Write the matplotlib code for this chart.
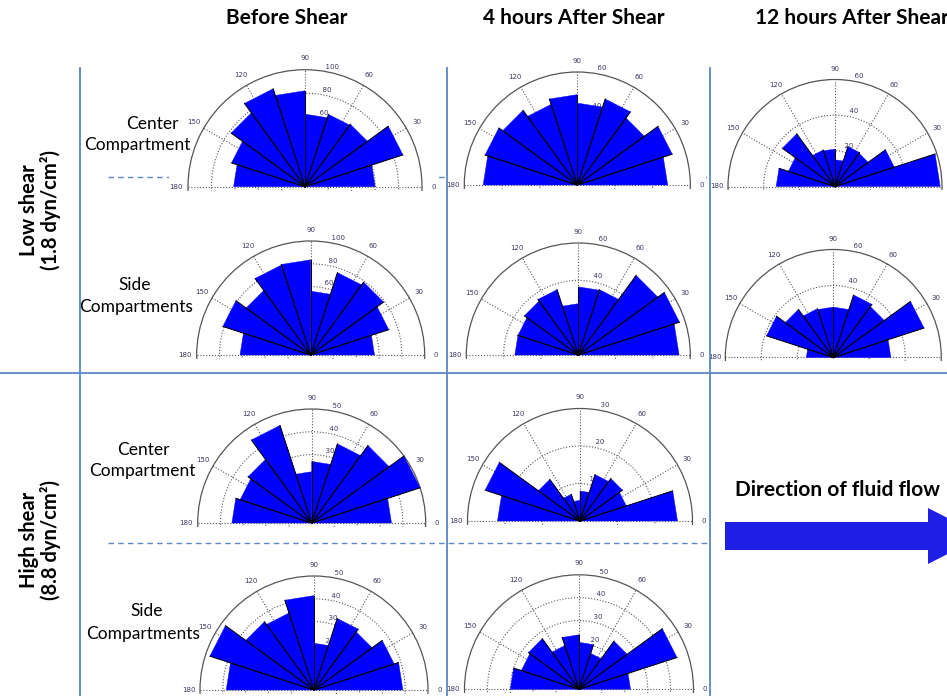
import numpy as np
import matplotlib.pyplot as plt
from matplotlib.patches import Polygon, Circle
from matplotlib.lines import Line2D

W, H = 947, 696
plt.rcParams['font.family'] = ['Lato', 'DejaVu Sans']

# Orientation histograms: 10 bins of 18 degrees covering 0-180
bin_edges = np.arange(0, 181, 18)

ls_center_before = [60, 88, 66, 65, 62, 82, 88, 78, 66, 61]
ls_center_4h = [48, 53, 44, 48, 43.5, 48, 45, 49, 51.5, 50]
ls_center_12h = [59, 35, 23, 23.5, 15, 21, 21.5, 36.5, 27.5, 33]
ls_side_before = [56, 72, 79, 76, 56, 83.5, 83, 70, 81, 62]
ls_side_4h = [54, 57, 52.7, 36.8, 36.5, 27.5, 36.8, 35.7, 34, 34]
ls_side_12h = [32, 53, 35, 36.5, 28, 28, 28.5, 33, 39, 15]
hs_center_before = [35, 50, 42, 36.5, 27, 22.5, 45, 34.5, 33, 35]
hs_center_4h = [26, 13, 14, 13, 8, 5.5, 7.5, 13.7, 26.6, 22]
hs_side_before = [39, 37, 31.5, 33, 20.5, 41.4, 35.5, 37, 48, 38.5]
hs_side_4h = [22.5, 45, 26, 16.5, 20.5, 23.8, 20, 27.3, 26.5, 30]

# radial axis limits (outer ring, ring step) for each histogram
axis_limits = {
    'ls_center_before': (100, 20), 'ls_center_4h': (60, 20), 'ls_center_12h': (60, 20),
    'ls_side_before': (100, 20), 'ls_side_4h': (60, 20), 'ls_side_12h': (60, 20),
    'hs_center_before': (50, 10), 'hs_center_4h': (30, 10),
    'hs_side_before': (50, 10), 'hs_side_4h': (50, 10),
}

col_titles = ['Before Shear', '4 hours After Shear', '12 hours After Shear']
row_titles = ['Low shear\n(1.8 dyn/cm²)', 'High shear\n(8.8 dyn/cm²)']

fig = plt.figure(figsize=(W / 100, H / 100), dpi=100)


def fx(x):
    return x / W


def fy(y):
    return 1 - y / H


GRID = '#555555'
TXT = '#3f3560'
DOT = (0, (1, 1.6))


def rose(ox, oy, R, counts, rmax, rinc):
    pl, pr, pt, pb = 1.16, 1.14, 1.2, 0.035
    left, right = ox - pl * R, ox + pr * R
    top, bottom = oy - pt * R, oy + pb * R
    ax = fig.add_axes([fx(left), fy(bottom), (right - left) / W, (bottom - top) / H])
    ax.set_xlim(-pl * rmax, pr * rmax)
    ax.set_ylim(-pb * rmax, pt * rmax)
    ax.set_xticks([])
    ax.set_yticks([])
    for s in ax.spines.values():
        s.set_visible(False)
    ax.set_facecolor('white')

    # dotted rings and solid outer circle
    for r in np.arange(rinc, rmax, rinc):
        ax.add_patch(Circle((0, 0), r, fill=False, ec=GRID, lw=0.8, ls=DOT, zorder=1))
    ax.add_patch(Circle((0, 0), rmax, fill=False, ec=GRID, lw=0.9, zorder=1))
    # spokes every 30 degrees
    for a in range(30, 180, 30):
        t = np.deg2rad(a)
        ax.add_line(Line2D([0, rmax * np.cos(t)], [0, rmax * np.sin(t)],
                           color=GRID, lw=0.8, ls=DOT, zorder=1))
    ax.add_line(Line2D([-rmax, rmax], [0, 0], color=GRID, lw=0.8, ls=DOT, zorder=1))

    # angle labels
    for a in range(0, 181, 30):
        t = np.deg2rad(a)
        ax.text(1.1 * rmax * np.cos(t), 1.1 * rmax * np.sin(t), str(a),
                ha='center', va='center', fontsize=5, color=TXT,
                family='DejaVu Sans', zorder=2)
    # ring labels along 82 degrees
    c82, s82 = np.cos(np.deg2rad(82)), np.sin(np.deg2rad(82))
    for r in np.arange(rinc, rmax + 0.1, rinc):
        rr = r + rinc / 20
        ax.text(rr * c82, rr * s82, '  ' + str(int(r)), ha='left', va='bottom',
                fontsize=5, color=TXT, family='DejaVu Sans', zorder=2)

    # wedges, then the black radial edges
    for k, c in enumerate(counts):
        a1, a2 = np.deg2rad(bin_edges[k]), np.deg2rad(bin_edges[k + 1])
        pts = [(0, 0), (c * np.cos(a1), c * np.sin(a1)), (c * np.cos(a2), c * np.sin(a2))]
        ax.add_patch(Polygon(pts, closed=True, fc='#0000FF', ec='#0000FF', lw=0.3,
                             zorder=3))
    for k, c in enumerate(counts):
        for a in (bin_edges[k], bin_edges[k + 1]):
            if a in (0, 180):
                continue
            t = np.deg2rad(a)
            ax.add_line(Line2D([0, c * np.cos(t)], [0, c * np.sin(t)],
                               color='black', lw=0.7, zorder=4))
    return ax


panels = [
    (305, 186.7, 117, ls_center_before, 'ls_center_before'),
    (577.3, 185, 113, ls_center_4h, 'ls_center_4h'),
    (835, 186.5, 107, ls_center_12h, 'ls_center_12h'),
    (310.7, 355, 114, ls_side_before, 'ls_side_before'),
    (578.3, 355, 112, ls_side_4h, 'ls_side_4h'),
    (833.3, 357.5, 108, ls_side_12h, 'ls_side_12h'),
    (311.7, 523, 114, hs_center_before, 'hs_center_before'),
    (580, 521, 112.5, hs_center_4h, 'hs_center_4h'),
    (314, 690, 114, hs_side_before, 'hs_side_before'),
    (579, 689.3, 114.5, hs_side_4h, 'hs_side_4h'),
]
for ox, oy, R, counts, key in panels:
    rmax, rinc = axis_limits[key]
    rose(ox, oy, R, counts, rmax, rinc)

# table grid
BLUE_LINE = '#5b87c5'


def fline(x0, y0, x1, y1, z, **kw):
    fig.add_artist(Line2D([fx(x0), fx(x1)], [fy(y0), fy(y1)], color=BLUE_LINE,
                          lw=kw.pop('lw', 1.3), zorder=z, **kw))


for x in (80, 447, 710):
    fline(x, 68, x, 696, 5)
fline(0, 373, 947, 373, 5)
fline(108, 177, 947, 177, -1, ls=(0, (4, 3)), lw=1.0)
fline(108, 543, 708, 543, -1, ls=(0, (4, 3)), lw=1.0)

# column and row titles
for x, t in zip((287, 574, 852), col_titles):
    fig.text(fx(x), fy(18), t, ha='center', va='center', fontsize=15,
             fontweight='bold', color='black')
for y, t in zip((210, 540), row_titles):
    fig.text(fx(40), fy(y), t, ha='center', va='center', fontsize=14.5,
             fontweight='bold', rotation=90, linespacing=1.1, color='black')

sub_labels = [(152, 124, 'Center'), (137, 145, 'Compartment'),
              (135, 285, 'Side'), (136, 307, 'Compartments'),
              (143, 450, 'Center'), (142, 471, 'Compartment'),
              (147, 611, 'Side'), (143, 634, 'Compartments')]
for x, y, t in sub_labels:
    fig.text(fx(x), fy(y), t, ha='center', va='center', fontsize=12.5, color='black')

# flow direction arrow
fig.text(fx(735), fy(490), 'Direction of fluid flow', ha='left', va='center',
         fontsize=15, fontweight='bold', color='black')
arrow_px = [(725, 522), (928, 522), (928, 508), (983, 536), (928, 564), (928, 550), (725, 550)]
fig.add_artist(Polygon([(fx(x), fy(y)) for x, y in arrow_px], closed=True,
                       fc='#1f1fe6', ec='none', transform=fig.transFigure))

fig.savefig('out.png', dpi=100, facecolor='white')
